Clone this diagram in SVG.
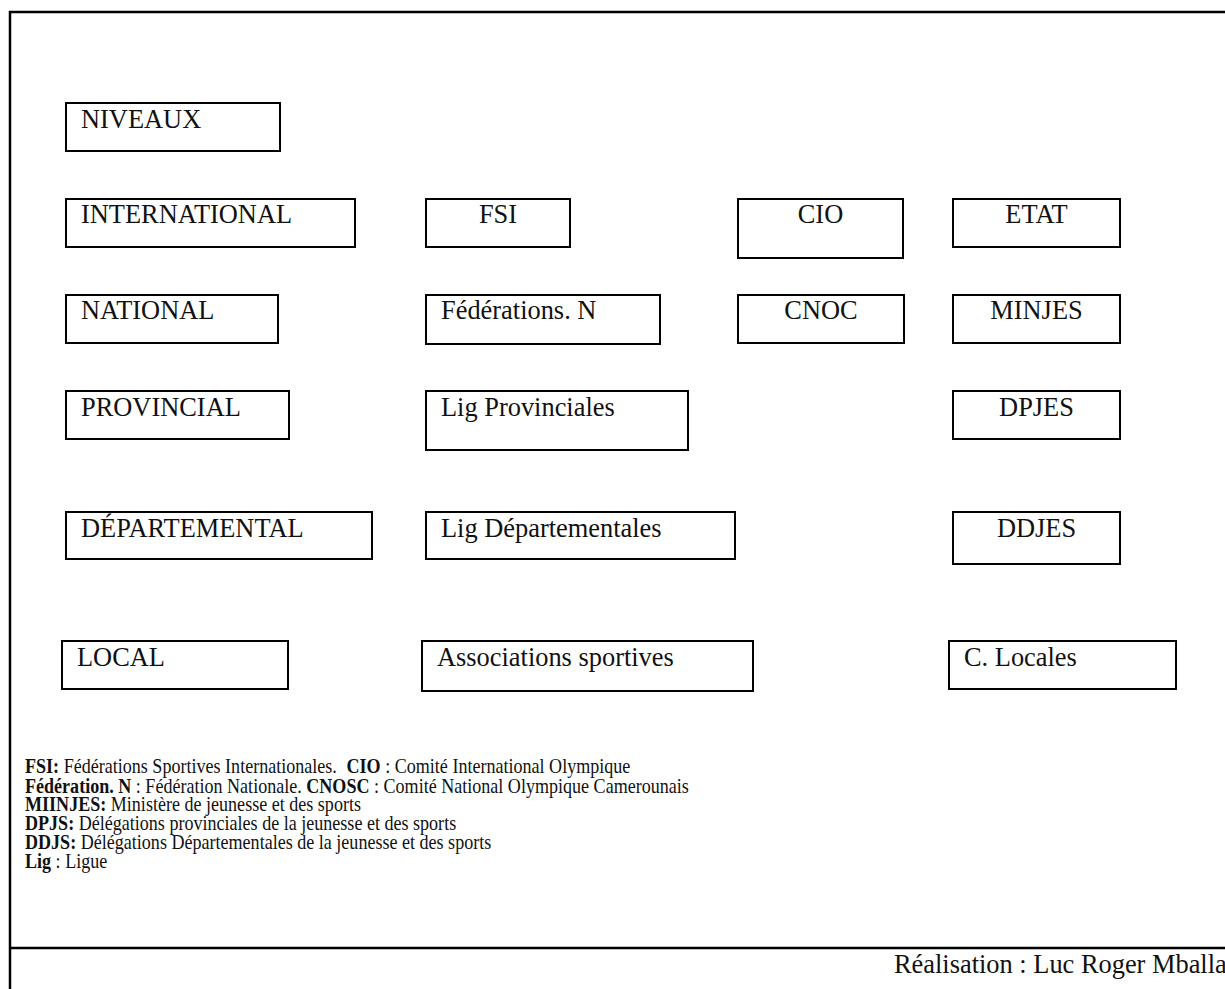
<svg xmlns="http://www.w3.org/2000/svg" width="1225" height="989" viewBox="0 0 1225 989" font-family="'Liberation Serif', 'Times New Roman', serif">
<style>
.box{fill:#fff;stroke:#000;stroke-width:2}
text{font-family:'Liberation Serif','Times New Roman',serif;fill:#111}
.lbl{font-size:26.4px}
.c{text-anchor:middle}
.leg{font-size:21px}
.b{font-weight:bold}
.frame{fill:none;stroke:#000;stroke-width:2.5}
</style>
<rect width="1225" height="989" fill="#fff"/>
<g id="frame">
<path class="frame" d="M1230,12 H10 V995"/>
<line class="frame" x1="10" y1="948" x2="1230" y2="948"/>
</g>
<g id="connectors"></g>
<g id="niveaux"><rect class="box" x="66" y="103" width="214" height="48"/><text class="lbl" x="81" y="128">NIVEAUX</text></g>
<g id="international"><rect class="box" x="66" y="199" width="289" height="48"/><text class="lbl" x="81" y="223">INTERNATIONAL</text></g>
<g id="fsi"><rect class="box" x="426" y="199" width="144" height="48"/><text class="lbl c" x="498" y="223">FSI</text></g>
<g id="cio"><rect class="box" x="738" y="199" width="165" height="59"/><text class="lbl c" x="820.5" y="223">CIO</text></g>
<g id="etat"><rect class="box" x="953" y="199" width="167" height="48"/><text class="lbl c" x="1036.5" y="223">ETAT</text></g>
<g id="national"><rect class="box" x="66" y="295" width="212" height="48"/><text class="lbl" x="81" y="319">NATIONAL</text></g>
<g id="federations"><rect class="box" x="426" y="295" width="234" height="49"/><text class="lbl" x="441" y="319">Fédérations. N</text></g>
<g id="cnoc"><rect class="box" x="738" y="295" width="166" height="48"/><text class="lbl c" x="821" y="319">CNOC</text></g>
<g id="minjes"><rect class="box" x="953" y="295" width="167" height="48"/><text class="lbl c" x="1036.5" y="319">MINJES</text></g>
<g id="provincial"><rect class="box" x="66" y="391" width="223" height="48"/><text class="lbl" x="81" y="416">PROVINCIAL</text></g>
<g id="ligprov"><rect class="box" x="426" y="391" width="262" height="59"/><text class="lbl" x="441" y="416">Lig Provinciales</text></g>
<g id="dpjes"><rect class="box" x="953" y="391" width="167" height="48"/><text class="lbl c" x="1036.5" y="416">DPJES</text></g>
<g id="departemental"><rect class="box" x="66" y="512" width="306" height="47"/><text class="lbl" x="81" y="537">DÉPARTEMENTAL</text></g>
<g id="ligdep"><rect class="box" x="426" y="512" width="309" height="47"/><text class="lbl" x="441" y="537">Lig Départementales</text></g>
<g id="ddjes"><rect class="box" x="953" y="512" width="167" height="52"/><text class="lbl c" x="1036.5" y="537">DDJES</text></g>
<g id="local"><rect class="box" x="62" y="641" width="226" height="48"/><text class="lbl" x="77" y="666">LOCAL</text></g>
<g id="assoc"><rect class="box" x="422" y="641" width="331" height="50"/><text class="lbl" x="437" y="666">Associations sportives</text></g>
<g id="clocales"><rect class="box" x="949" y="641" width="227" height="48"/><text class="lbl" x="964" y="666">C. Locales</text></g>
<g id="legend" transform="translate(25,0) scale(0.86,1)">
<text class="leg" x="0" y="773"><tspan class="b">FSI:</tspan> Fédérations Sportives Internationales. <tspan class="b" dx="6">CIO</tspan> : Comité International Olympique</text>
<text class="leg" x="0" y="793"><tspan class="b">Fédération. N</tspan> : Fédération Nationale. <tspan class="b">CNOSC</tspan> : Comité National Olympique Camerounais</text>
<text class="leg" x="0" y="811"><tspan class="b">MIINJES:</tspan> Ministère de jeunesse et des sports</text>
<text class="leg" x="0" y="830"><tspan class="b">DPJS:</tspan> Délégations provinciales de la jeunesse et des sports</text>
<text class="leg" x="0" y="849"><tspan class="b">DDJS:</tspan> Délégations Départementales de la jeunesse et des sports</text>
<text class="leg" x="0" y="868"><tspan class="b">Lig</tspan> : Ligue</text>
</g>
<g id="credit"><text class="lbl" x="894" y="973">Réalisation : Luc Roger Mballa</text></g>
</svg>
